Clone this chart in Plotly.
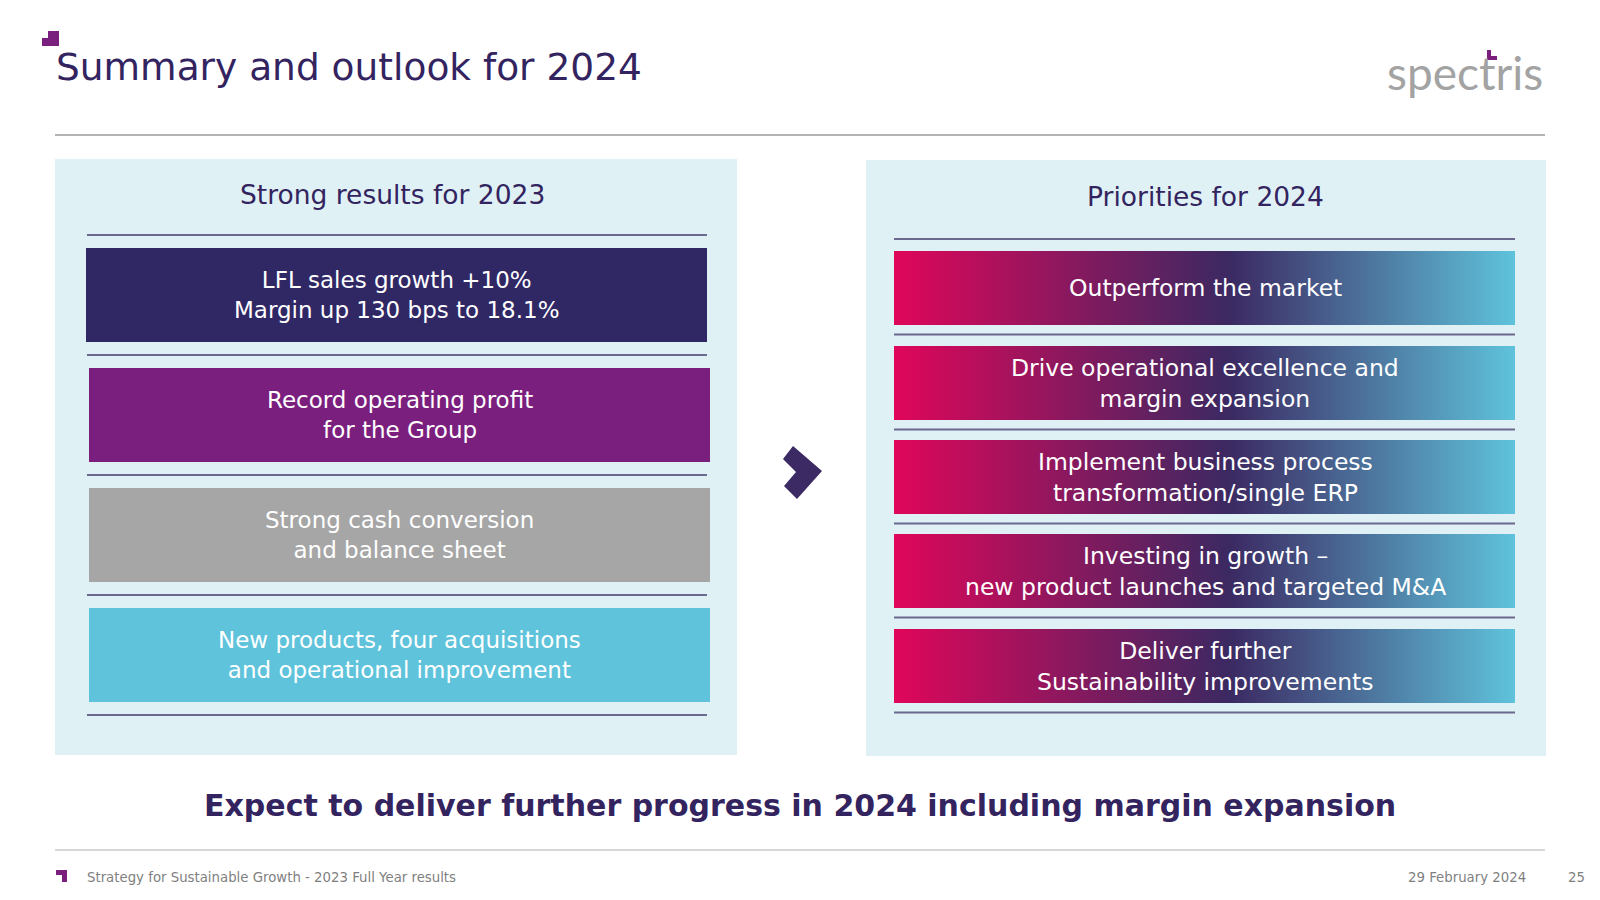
import plotly.graph_objects as go

# ---- content ----
title_text = "Summary and outlook for 2024"
left_header = "Strong results for 2023"
right_header = "Priorities for 2024"
left_items = [
    "LFL sales growth +10%<br>Margin up 130 bps to 18.1%",
    "Record operating profit<br>for the Group",
    "Strong cash conversion<br>and balance sheet",
    "New products, four acquisitions<br>and operational improvement",
]
left_colors = ["#302865", "#7b1f7e", "#a6a6a6", "#5fc3db"]
right_items = [
    "Outperform the market",
    "Drive operational excellence and<br>margin expansion",
    "Implement business process<br>transformation/single ERP",
    "Investing in growth –<br>new product launches and targeted M&A",
    "Deliver further<br>Sustainability improvements",
]
conclusion = "Expect to deliver further progress in 2024 including margin expansion"
footer_left = "Strategy for Sustainable Growth - 2023 Full Year results"
footer_date = "29 February 2024"
page_no = "25"

FONT = "DejaVu Sans"
PURPLE = "#33245f"
PANEL = "#dff1f5"
RULE = "#6b6990"
OFF = 8  # page body margin

fig = go.Figure()
shapes = []
ann = []

def rect(x0, y0, x1, y1, color, layer="below"):
    shapes.append(dict(type="rect", xref="x", yref="y", x0=x0, x1=x1, y0=y0, y1=y1,
                       fillcolor=color, line=dict(width=0), layer=layer))

def hline(x0, x1, y, color, w=2):
    shapes.append(dict(type="line", xref="x", yref="y", x0=x0, x1=x1, y0=y, y1=y,
                       line=dict(color=color, width=w), layer="below"))

def text(x, y, s, size, color, xanchor="center", bold=False, family=FONT):
    ann.append(dict(x=x, y=y, xref="x", yref="y", text=f"<b>{s}</b>" if bold else s,
                    showarrow=False, xanchor=xanchor, yanchor="middle",
                    font=dict(family=family, size=size, color=color)))

# title mark + title
rect(48, 31, 59, 38, "#7b1f7e")
rect(42, 38, 59, 46, "#7b1f7e")
text(54, 67, title_text, 37.5, PURPLE, xanchor="left")
hline(55, 1545, 135, "#9a9a9a", 1.5)

# spectris logo
text(1385, 72, "spectris", 46, "#a3a3a3", xanchor="left", family="Lato")
rect(1487, 50, 1491, 60, "#7b1f7e")
rect(1487, 56, 1497, 60, "#7b1f7e")

# left panel
rect(55, 159, 737, 755, PANEL)
text(392, 194, left_header, 26.5, PURPLE)
hline(87, 707, 235, RULE)
l_top = [248, 368, 488, 608]
l_x = [(86, 707), (89, 710), (89, 710), (89, 710)]
for i, (s, c) in enumerate(zip(left_items, left_colors)):
    x0, x1 = l_x[i]
    y0 = l_top[i]
    rect(x0, y0, x1, y0 + 94, c)
    text((x0 + x1) / 2, y0 + 47, s, 23, "white")
    hline(87, 707, y0 + 107, RULE)

# right panel
rect(866, 160, 1546, 756, PANEL)
text(1205, 196, right_header, 26.5, PURPLE)
hline(894, 1515, 239, RULE)
r_top = [251, 346, 440, 534, 629]
grad = [[0, "#e0065a"], [0.54, "#3b2962"], [1, "#5fc3db"]]
for i, s in enumerate(right_items):
    y0 = r_top[i]
    y1 = y0 + 74
    fig.add_trace(go.Scatter(x=[894, 1515, 1515, 894, 894], y=[y0, y0, y1, y1, y0],
                             fill="toself", mode="lines", line=dict(width=0),
                             fillgradient=dict(type="horizontal", colorscale=grad),
                             hoverinfo="skip", showlegend=False))
    text(1205, (y0 + y1) / 2, s, 23.5, "white")
    hline(894, 1515, y1 + 9.5, RULE)

# chevron
fig.add_trace(go.Scatter(x=[793, 822, 797, 784, 796, 783, 793],
                         y=[446, 471, 499, 486, 472, 459, 446],
                         fill="toself", mode="lines", line=dict(width=0, color="#3b2a63"),
                         fillcolor="#3b2a63", hoverinfo="skip", showlegend=False))

# conclusion
text(800, 805, conclusion, 30, PURPLE, bold=True)

# footer
hline(55, 1545, 850, "#c8c8c8", 1.5)
rect(56, 870, 67, 875, "#7b1f7e")
rect(62, 870, 67, 882, "#7b1f7e")
text(85, 877, footer_left, 13.3, "#7f7f7f", xanchor="left")
text(1528, 877, footer_date, 13.3, "#7f7f7f", xanchor="right")
text(1576, 877, page_no, 13.3, "#7f7f7f")

fig.update_layout(
    width=1600, height=900, margin=dict(l=0, r=0, t=0, b=0),
    paper_bgcolor="white", plot_bgcolor="white",
    xaxis=dict(range=[OFF, 1600 + OFF], visible=False, fixedrange=True),
    yaxis=dict(range=[900 + OFF, OFF], visible=False, fixedrange=True),
    shapes=shapes, annotations=ann, showlegend=False,
)
fig.write_html("out.html")
